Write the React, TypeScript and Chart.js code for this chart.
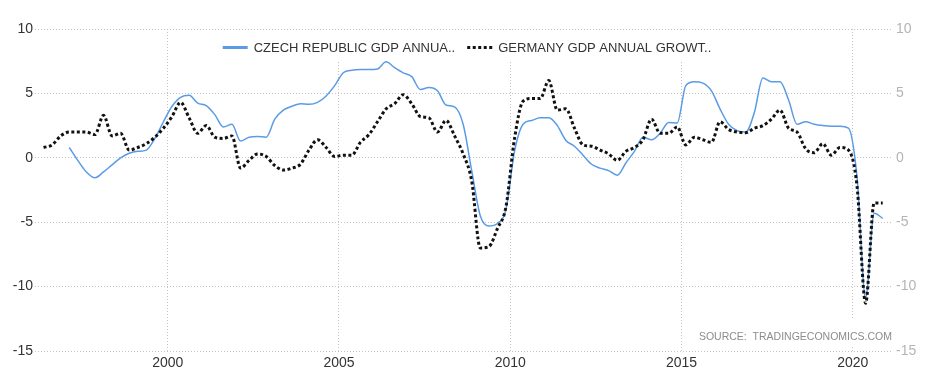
import React, { useEffect, useRef } from 'react';
import { Chart, registerables } from 'chart.js';

Chart.register(...registerables);

// Quarterly periods (first: Germany series start)
const periods: string[] = [
  '1996Q2', '1996Q3', '1996Q4',
  '1997Q1', '1997Q2', '1997Q3', '1997Q4',
  '1998Q1', '1998Q2', '1998Q3', '1998Q4',
  '1999Q1', '1999Q2', '1999Q3', '1999Q4',
  '2000Q1', '2000Q2', '2000Q3', '2000Q4',
  '2001Q1', '2001Q2', '2001Q3', '2001Q4',
  '2002Q1', '2002Q2', '2002Q3', '2002Q4',
  '2003Q1', '2003Q2', '2003Q3', '2003Q4',
  '2004Q1', '2004Q2', '2004Q3', '2004Q4',
  '2005Q1', '2005Q2', '2005Q3', '2005Q4',
  '2006Q1', '2006Q2', '2006Q3', '2006Q4',
  '2007Q1', '2007Q2', '2007Q3', '2007Q4',
  '2008Q1', '2008Q2', '2008Q3', '2008Q4',
  '2009Q1', '2009Q2', '2009Q3', '2009Q4',
  '2010Q1', '2010Q2', '2010Q3', '2010Q4',
  '2011Q1', '2011Q2', '2011Q3', '2011Q4',
  '2012Q1', '2012Q2', '2012Q3', '2012Q4',
  '2013Q1', '2013Q2', '2013Q3', '2013Q4',
  '2014Q1', '2014Q2', '2014Q3', '2014Q4',
  '2015Q1', '2015Q2', '2015Q3', '2015Q4',
  '2016Q1', '2016Q2', '2016Q3', '2016Q4',
  '2017Q1', '2017Q2', '2017Q3', '2017Q4',
  '2018Q1', '2018Q2', '2018Q3', '2018Q4',
  '2019Q1', '2019Q2', '2019Q3', '2019Q4',
  '2020Q1', '2020Q2', '2020Q3', '2020Q4',
];

const germanyGrowth: number[] = [
  0.8, 1.0, 1.7,
  2.0, 2.0, 2.0, 1.8,
  3.3, 1.7, 1.9, 0.6,
  0.8, 1.1, 1.6, 2.3,
  3.2, 4.3, 3.1, 1.9,
  2.5, 1.6, 1.5, 1.7,
  -0.8, -0.2, 0.3, 0.1,
  -0.6, -0.95, -0.8, -0.5,
  0.6, 1.4, 0.8, 0.1,
  0.2, 0.2, 1.2, 1.8,
  2.8, 3.8, 4.2, 4.9,
  4.2, 3.2, 3.1, 2.0,
  2.9, 1.7, 0.3, -1.8,
  -7.0, -6.9, -5.5, -3.8,
  1.5, 4.4, 4.6, 4.6,
  6.0, 3.7, 3.8, 2.3,
  1.0, 0.9, 0.6, 0.3,
  -0.2, 0.5, 0.8, 1.4,
  3.0, 1.9, 1.9, 2.4,
  1.0, 1.6, 1.4, 1.2,
  2.8, 2.2, 2.0, 1.95,
  2.3, 2.5, 3.0, 3.7,
  2.3, 2.0, 0.7, 0.4,
  1.1, 0.2, 0.8, 0.6,
  -2.2, -11.3, -3.5, -3.5,
];

// Czech series starts in 1997Q1
const czechStart = '1997Q1';
const czechGrowth: number[] = [
  0.8, -0.2, -1.1, -1.55,
  -1.1, -0.55, 0.0, 0.35,
  0.5, 0.6, 1.5, 2.8,
  4.0, 4.7, 4.85, 4.25,
  4.05, 3.35, 2.4, 2.6,
  1.3, 1.6, 1.65, 1.6,
  3.0, 3.7, 4.0, 4.2,
  4.15, 4.3, 4.8, 5.6,
  6.6, 6.8, 6.85, 6.85,
  6.9, 7.45, 7.0, 6.6,
  6.3, 5.3, 5.45, 5.2,
  4.1, 3.95, 2.6, -1.0,
  -4.5, -5.3, -5.1, -4.0,
  0.5, 2.6, 2.9, 3.1,
  3.1, 2.5, 1.35, 0.9,
  0.2, -0.5, -0.8, -1.0,
  -1.35, -0.4, 0.5, 1.6,
  1.4, 1.9, 2.75, 2.7,
  5.6, 5.9, 5.8, 5.2,
  3.8, 2.6, 2.1, 2.0,
  3.5, 6.2, 5.9, 5.9,
  4.5, 2.6, 2.8, 2.6,
  2.5, 2.45, 2.45, 2.3,
  -1.5, -10.9, -4.3, -4.7,
];

const yearTicks: number[] = [2000, 2005, 2010, 2015, 2020];
const valueTicks: number[] = [-15, -10, -5, 0, 5, 10];
const seriesLabels: string[] = ['CZECH REPUBLIC GDP ANNUA..', 'GERMANY GDP ANNUAL GROWT..'];
const sourceText = 'SOURCE:  TRADINGECONOMICS.COM';

const X_MIN = 1996.125;
const X_MAX = 2021.175;
const FONT = '"Liberation Sans", Arial, Helvetica, sans-serif';

function periodToYear(p: string): number {
  const [y, q] = p.split('Q');
  return Number(y) + (Number(q) - 0.5) / 4;
}

const overlayPlugin = {
  id: 'overlayLegendSource',
  beforeDatasetsDraw(chart: any) {
    const ctx: CanvasRenderingContext2D = chart.ctx;
    const area = chart.chartArea;
    ctx.save();
    // Legend
    ctx.font = `13px ${FONT}`;
    const sampleW = 25;
    const gapText = 6;
    const gapItem = 12;
    const dsList = chart.data.datasets;
    const widths = dsList.map((ds: any) => ctx.measureText(ds.label).width);
    const total = widths.reduce((s: number, w: number) => s + sampleW + gapText + w, 0) + gapItem * (dsList.length - 1);
    let x = (area.left + area.right) / 2 + 3 - total / 2;
    ctx.fillStyle = '#ffffff';
    ctx.fillRect(x - 14, area.top + 1, total + 28, 31);
    const lineY = area.top + 18.5;
    const textY = area.top + 23.3;
    dsList.forEach((ds: any, i: number) => {
      ctx.save();
      ctx.beginPath();
      ctx.strokeStyle = ds.borderColor;
      ctx.lineWidth = 3;
      ctx.setLineDash(ds.borderDash || []);
      ctx.moveTo(x, lineY);
      ctx.lineTo(x + sampleW, lineY);
      ctx.stroke();
      ctx.restore();
      ctx.fillStyle = '#333333';
      ctx.textBaseline = 'alphabetic';
      ctx.textAlign = 'left';
      ctx.fillText(ds.label, x + sampleW + gapText, textY);
      x += sampleW + gapText + widths[i] + gapItem;
    });
    // Source
    ctx.font = `10.5px ${FONT}`;
    const sw = ctx.measureText(sourceText).width;
    ctx.fillStyle = '#ffffff';
    ctx.fillRect(area.right - sw - 18, area.bottom - 31, sw + 18, 26);
    ctx.fillStyle = '#8c8c8c';
    ctx.textAlign = 'right';
    ctx.textBaseline = 'alphabetic';
    ctx.fillText(sourceText, area.right - 1, area.bottom - 11);
    ctx.restore();
  },
};

export default function App() {
  const canvasRef = useRef<HTMLCanvasElement | null>(null);

  useEffect(() => {
    const canvas = canvasRef.current;
    if (!canvas) return;
    const czOffset = periods.indexOf(czechStart);
    const gridColor = '#c4c4c4';
    const chart = new Chart(canvas, {
      type: 'line',
      data: {
        datasets: [
          {
            label: seriesLabels[0],
            data: czechGrowth.map((v, i) => ({ x: periodToYear(periods[i + czOffset]), y: v })),
            borderColor: '#5b9be6',
            backgroundColor: '#5b9be6',
            borderWidth: 1.5,
            pointRadius: 0,
            cubicInterpolationMode: 'monotone',
            fill: false,
            order: 1,
          },
          {
            label: seriesLabels[1],
            data: germanyGrowth.map((v, i) => ({ x: periodToYear(periods[i]), y: v })),
            borderColor: '#111111',
            backgroundColor: '#111111',
            borderWidth: 3,
            borderDash: [3, 2.5],
            pointRadius: 0,
            cubicInterpolationMode: 'monotone',
            fill: false,
            order: 0,
          },
        ] as any,
      },
      options: {
        animation: false,
        responsive: false,
        maintainAspectRatio: false,
        layout: { padding: { top: 29, left: 0, right: 0, bottom: 0 } },
        plugins: {
          legend: { display: false },
          tooltip: { enabled: false },
          title: { display: false },
        },
        scales: {
          x: {
            type: 'linear',
            min: X_MIN,
            max: X_MAX,
            afterBuildTicks: (axis: any) => {
              axis.ticks = yearTicks.map((v) => ({ value: v }));
            },
            afterFit: (s: any) => {
              s.height = 31;
            },
            grid: { color: gridColor, lineWidth: 1, drawTicks: false },
            border: { display: false, dash: [1, 2] },
            ticks: {
              color: '#333333',
              padding: 4,
              font: { family: FONT, size: 14 },
              maxRotation: 0,
              autoSkip: false,
              callback: (v: any) => String(v),
            },
          },
          y: {
            type: 'linear',
            position: 'left',
            min: -15,
            max: 10,
            afterBuildTicks: (axis: any) => {
              axis.ticks = valueTicks.map((v) => ({ value: v }));
            },
            afterFit: (s: any) => {
              s.width = 35;
            },
            grid: { color: gridColor, lineWidth: 1, drawTicks: false },
            border: { display: false, dash: [1, 2] },
            ticks: {
              color: '#333333',
              padding: 2,
              font: { family: FONT, size: 14 },
              callback: (v: any) => String(v),
            },
          },
          y2: {
            type: 'linear',
            position: 'right',
            min: -15,
            max: 10,
            afterBuildTicks: (axis: any) => {
              axis.ticks = valueTicks.map((v) => ({ value: v }));
            },
            afterFit: (s: any) => {
              s.width = 43;
            },
            grid: { display: false, drawTicks: false },
            border: { display: false },
            ticks: {
              color: '#b4b4b4',
              padding: 3,
              font: { family: FONT, size: 14 },
              callback: (v: any) => String(v),
            },
          },
        },
      } as any,
      plugins: [overlayPlugin],
    });
    return () => {
      chart.destroy();
    };
  }, []);

  return (
    <div style={{ position: 'absolute', left: 0, top: 0, width: 936, height: 382, background: '#ffffff' }}>
      <canvas ref={canvasRef} width={936} height={382} style={{ display: 'block', width: 936, height: 382 }} />
    </div>
  );
}
